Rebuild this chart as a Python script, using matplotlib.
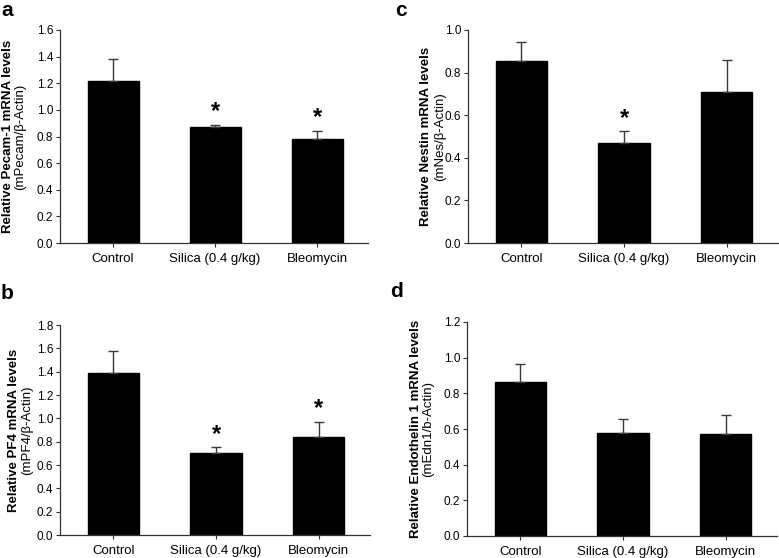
import numpy as np
import matplotlib
matplotlib.use("Agg")
import matplotlib.pyplot as plt

plt.rcParams['font.family'] = ['Liberation Sans', 'DejaVu Sans']

groups = ["Control", "Silica (0.4 g/kg)", "Bleomycin"]

pecam_mean = [1.22, 0.87, 0.78]
pecam_err = [0.16, 0.02, 0.065]
pecam_star = [False, True, True]

nestin_mean = [0.855, 0.47, 0.71]
nestin_err = [0.09, 0.055, 0.15]
nestin_star = [False, True, False]

pf4_mean = [1.39, 0.70, 0.84]
pf4_err = [0.185, 0.055, 0.13]
pf4_star = [False, True, True]

edn_mean = [0.865, 0.58, 0.57]
edn_err = [0.10, 0.075, 0.11]
edn_star = [False, False, False]

W, H = 779, 558
fig = plt.figure(figsize=(W / 100, H / 100), dpi=100)


def px_axes(left, right, top, bottom):
    return fig.add_axes([left / W, 1 - bottom / H, (right - left) / W, (bottom - top) / H])


def panel(box, means, errs, stars, ymax, yticks, letter, letter_xy,
          label1, label2, lab_x):
    ax = px_axes(*box)
    x = np.arange(len(groups))
    ax.bar(x, means, width=0.5, color="black", edgecolor="black", zorder=2)
    ax.errorbar(x, means, yerr=[np.zeros(len(errs)), errs], fmt="none",
                ecolor="#3a3a3a", elinewidth=1.0, capsize=3.5, capthick=1.0, zorder=3)
    for xi, m, e, s in zip(x, means, errs, stars):
        if s:
            ax.annotate("*", (xi, m + e), xytext=(0, 1), textcoords="offset points",
                        ha="center", va="bottom", fontsize=17, fontweight="bold")
    ax.set_xlim(-0.52, 2.5)
    ax.set_ylim(0, ymax)
    ax.set_yticks(yticks)
    ax.set_yticklabels([f"{t:.1f}" for t in yticks])
    ax.set_xticks(x)
    ax.set_xticklabels(groups, fontsize=9.5)
    ax.tick_params(axis="y", labelsize=8.5, length=3, width=0.8, color="#333333", pad=2)
    ax.tick_params(axis="x", length=3, width=0.8, color="#333333", pad=4.5)
    for side in ["top", "right"]:
        ax.spines[side].set_visible(False)
    for side in ["left", "bottom"]:
        ax.spines[side].set_color("#333333")
        ax.spines[side].set_linewidth(0.9)

    cy = 1 - (box[2] + box[3]) / 2 / H
    fig.text(lab_x[0] / W, cy, label1, rotation=90, ha="center", va="center",
             fontsize=9.5, fontweight="bold")
    fig.text(lab_x[1] / W, cy, label2, rotation=90, ha="center", va="center",
             fontsize=9.5)
    fig.text(letter_xy[0] / W, 1 - letter_xy[1] / H, letter, ha="left", va="top",
             fontsize=15, fontweight="bold")
    return ax


panel((60, 368, 30, 243), pecam_mean, pecam_err, pecam_star, 1.6,
      np.arange(0, 1.61, 0.2), "a", (1, 1),
      "Relative Pecam-1 mRNA levels", "(mPecam/\u03b2-Actin)", (8, 20))

panel((468, 778, 30, 243), nestin_mean, nestin_err, nestin_star, 1.0,
      np.arange(0, 1.01, 0.2), "c", (395, 1),
      "Relative Nestin mRNA levels", "(mNes/\u03b2-Actin)", (426, 440))

panel((60, 370, 325, 535), pf4_mean, pf4_err, pf4_star, 1.8,
      np.arange(0, 1.81, 0.2), "b", (1, 284),
      "Relative PF4 mRNA levels", "(mPF4/\u03b2-Actin)", (14, 27))

panel((467, 777, 322, 536), edn_mean, edn_err, edn_star, 1.2,
      np.arange(0, 1.21, 0.2), "d", (390, 282),
      "Relative Endothelin 1 mRNA levels", "(mEdn1/b-Actin)", (416, 428))

fig.savefig("out.png", dpi=100)
